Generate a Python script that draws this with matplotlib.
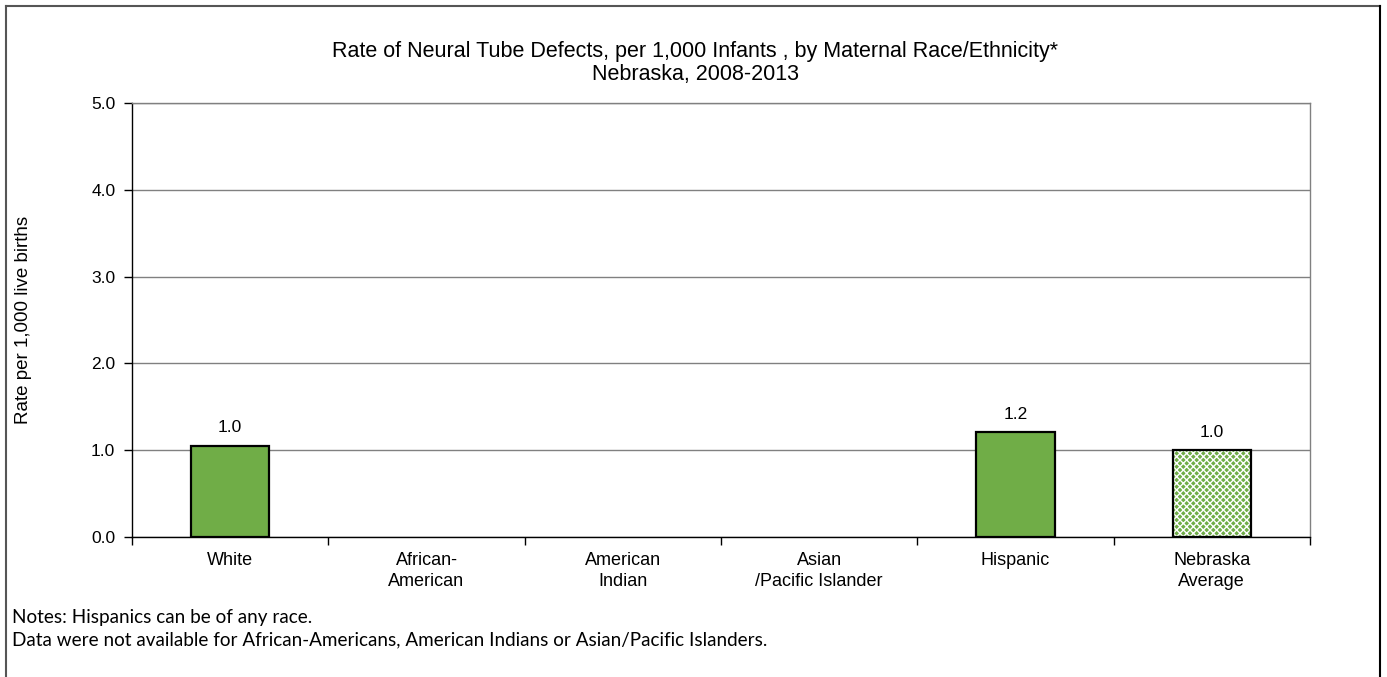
import matplotlib
matplotlib.use("Agg")
import matplotlib.pyplot as plt
from matplotlib.lines import Line2D
import numpy as np

categories = ["White", "African-\nAmerican", "American\nIndian", "Asian\n/Pacific Islander", "Hispanic", "Nebraska\nAverage"]
values = [1.05, None, None, None, 1.21, 1.0]
labels = ["1.0", "", "", "", "1.2", "1.0"]
yticks = [0.0, 1.0, 2.0, 3.0, 4.0, 5.0]
title = "Rate of Neural Tube Defects, per 1,000 Infants , by Maternal Race/Ethnicity*\nNebraska, 2008-2013"
ylabel = "Rate per 1,000 live births"
notes = ["Notes: Hispanics can be of any race.",
         "Data were not available for African-Americans, American Indians or Asian/Pacific Islanders."]

green = "#70AD47"
W, H = 1387, 677
plt.rcParams['hatch.linewidth'] = 1.0
fig = plt.figure(figsize=(W / 100, H / 100), dpi=100)
plt.rcParams['font.family'] = ['Liberation Sans', 'DejaVu Sans']

ax = fig.add_axes([132 / W, 1 - 537 / H, (1310 - 132) / W, (537 - 103) / H])
x = np.arange(len(categories))
bw = 0.40
for i, v in enumerate(values):
    if v is None:
        continue
    if i == len(values) - 1:
        ax.bar(x[i], v, bw, color=green, edgecolor="white", hatch="xxxxx", linewidth=0, zorder=3)
        ax.bar(x[i], v, bw, fill=False, edgecolor="black", linewidth=1.6, zorder=4)
    else:
        ax.bar(x[i], v, bw, color=green, edgecolor="black", linewidth=1.6, zorder=3)
    ax.text(x[i], v + 0.12, labels[i], ha="center", va="bottom", fontsize=12.5)

ax.set_xlim(-0.5, len(categories) - 0.5)
ax.set_ylim(0, 5)
ax.set_yticks(yticks)
ax.set_yticklabels([f"{t:.1f}" for t in yticks], fontsize=12.5)
ax.yaxis.grid(True, color="#808080", linewidth=1, zorder=0)
ax.set_axisbelow(True)
ax.set_xticks(x)
ax.set_xticklabels(categories, fontsize=13, linespacing=1.3)
ax.tick_params(axis="x", length=0, pad=11)
ax.set_xticks(np.arange(len(categories) + 1) - 0.5, minor=True)
ax.tick_params(axis="x", which="minor", length=6, width=1, color="black")
ax.tick_params(axis="y", length=6, width=1, color="black", pad=6)
ax.spines["left"].set_color("black")
ax.spines["bottom"].set_color("black")
ax.spines["top"].set_color("#808080")
ax.spines["right"].set_color("#808080")
for s in ax.spines.values():
    s.set_linewidth(1)

ax.set_ylabel(ylabel, fontsize=13.5)
ax.yaxis.set_label_coords(-0.085, 0.5)

fig.text(695 / W, 1 - 41 / H, title, ha="center", va="top", fontsize=15.5, linespacing=1.1)

fig.text(12 / W, 1 - 617 / H, notes[0], ha="left", va="center", fontsize=13.6, family=["Lato", "DejaVu Sans"])
fig.text(12 / W, 1 - 640 / H, notes[1], ha="left", va="center", fontsize=13.6, family=["Lato", "DejaVu Sans"])

fig.add_artist(Line2D([6 / W, 6 / W], [0, 1 - 6 / H], transform=fig.transFigure, color="#555555", linewidth=1.5))
fig.add_artist(Line2D([6 / W, 1380 / W], [1 - 6 / H, 1 - 6 / H], transform=fig.transFigure, color="#555555", linewidth=1.5))
fig.add_artist(Line2D([1380 / W, 1380 / W], [0, 1 - 6 / H], transform=fig.transFigure, color="black", linewidth=1.5))

fig.savefig("out.png", dpi=100)
